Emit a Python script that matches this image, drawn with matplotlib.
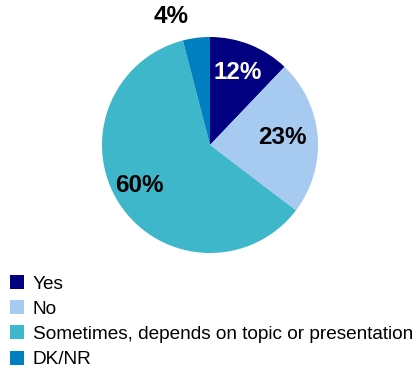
import matplotlib.pyplot as plt
from matplotlib.patches import Patch

plt.rcParams['font.family'] = ['Liberation Sans', 'DejaVu Sans']

# data
labels = ['Yes', 'No', 'Sometimes, depends on topic or presentation', 'DK/NR']
values = [12, 23, 60, 4]
colors = ['#000080', '#A6CAF0', '#3FB7CA', '#0080C0']
text_colors = ['white', 'black', 'black', 'black']


def main():
    fig = plt.figure(figsize=(4.2, 3.75), dpi=100)
    # pie axes: center (210,145), radius ~108 px
    ax = fig.add_axes([(210 - 110) / 420, 1 - (145 + 110) / 375, 220 / 420, 220 / 375])
    wedges, _ = ax.pie(values, colors=colors, startangle=90, counterclock=False,
                       radius=108 / 110)
    ax.set_xlim(-1, 1)
    ax.set_ylim(-1, 1)
    ax.set_aspect('equal')

    # percent labels
    label_pos = [(0.25, 0.66), (0.66, 0.07), (-0.64, -0.37), (-0.35, 1.17)]
    for v, c, (x, y) in zip(values, text_colors, label_pos):
        ax.text(x, y, f'{v}%', ha='center', va='center', fontsize=17.5,
                fontweight='bold', color=c)

    handles = [Patch(facecolor=c, edgecolor='none') for c in colors]
    fig.legend(handles, labels, loc='upper left', bbox_to_anchor=(10 / 420, 1 - 275 / 375),
               frameon=False, fontsize=13.7, handlelength=0.75, handleheight=0.75,
               handletextpad=0.45, labelspacing=0.4, borderpad=0, borderaxespad=0)

    fig.savefig('out.png', dpi=100)


if __name__ == "__main__":
    main()
